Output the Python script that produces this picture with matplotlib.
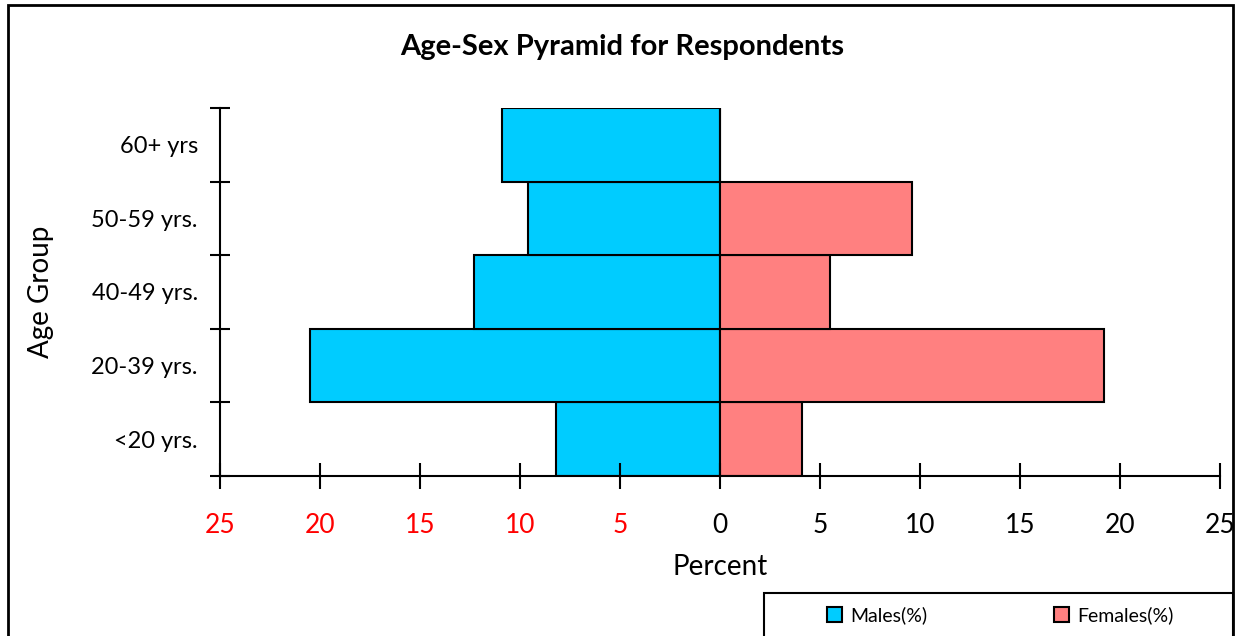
import numpy as np
import matplotlib.pyplot as plt
from matplotlib.patches import Rectangle

plt.rcParams['font.family'] = ['Lato', 'DejaVu Sans']

age_groups = ['<20 yrs.', '20-39 yrs.', '40-49 yrs.', '50-59 yrs.', '60+ yrs']
males = [8.2, 20.5, 12.3, 9.6, 10.9]
females = [4.1, 19.2, 5.5, 9.6, 0.0]
xticks = [-25, -20, -15, -10, -5, 0, 5, 10, 15, 20, 25]

fig = plt.figure(figsize=(12.4, 6.36), dpi=100)
ax = fig.add_axes([220/1240, 1-476/636, 1000/1240, 368/636])

y = np.arange(len(age_groups))
ax.barh(y, [-m for m in males], height=1.0, color='#00CCFF', edgecolor='black',
        linewidth=1.5, label='Males(%)')
ax.barh(y, females, height=1.0, color='#FF8080', edgecolor='black',
        linewidth=1.5, label='Females(%)')

ax.set_xlim(-25, 25)
ax.set_ylim(-0.5, len(age_groups) - 0.5)
for s in ['top', 'right']:
    ax.spines[s].set_visible(False)
for s in ['left', 'bottom']:
    ax.spines[s].set_linewidth(1.5)

ax.set_xticks(xticks)
ax.set_xticklabels([str(abs(t)) for t in xticks], fontsize=19)
for lab, t in zip(ax.get_xticklabels(), xticks):
    lab.set_color('red' if t < 0 else 'black')
ax.tick_params(axis='x', direction='inout', length=19, width=1.5, pad=17)

# category labels on centers, tick marks on the boundaries
ax.set_yticks(y)
ax.set_yticklabels(age_groups, fontsize=17)
ax.tick_params(axis='y', which='major', length=0, pad=16)
ax.set_yticks(np.arange(-0.5, len(age_groups)), minor=True)
ax.tick_params(axis='y', which='minor', direction='inout', length=14, width=1.5)

ax.set_xlabel('Percent', fontsize=20, labelpad=12)
ax.set_ylabel('Age Group', fontsize=20, labelpad=27)
fig.text(622/1240, 1-47/636, 'Age-Sex Pyramid for Respondents', ha='center',
         va='center', fontsize=21, fontweight='bold')

# outer chart border and legend box
fig.patches.append(Rectangle((8/1240, -0.1), 1225/1240, 1.1-5/636, transform=fig.transFigure,
                             fill=False, edgecolor='black', linewidth=2))
fig.patches.append(Rectangle((764/1240, -0.1), 469/1240, 0.1+43/636, transform=fig.transFigure,
                             fill=False, edgecolor='black', linewidth=1.5))
fig.legend(loc='center', bbox_to_anchor=(1000/1240, 1-615/636), ncol=2, frameon=False,
           fontsize=14, columnspacing=6.5, handlelength=0.8, handleheight=0.8,
           handletextpad=0.4)

fig.savefig('out.png', dpi=100)
